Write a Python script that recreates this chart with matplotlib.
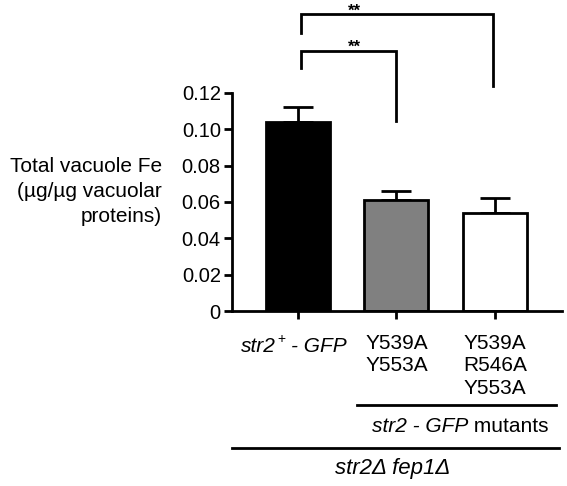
import matplotlib.pyplot as plt
import numpy as np

plt.rcParams['font.family'] = ['Liberation Sans', 'DejaVu Sans']

# data
groups = ['str2+ - GFP', 'Y539A\nY553A', 'Y539A\nR546A\nY553A']
values = [0.104, 0.061, 0.054]
errors = [0.008, 0.005, 0.008]
colors = ['black', '#808080', 'white']
yticks = [0, 0.02, 0.04, 0.06, 0.08, 0.10, 0.12]
ytick_labels = ['0', '0.02', '0.04', '0.06', '0.08', '0.10', '0.12']

fs = 15
W, H = 567, 486


def px(xp, yp):
    # pixel position (from top-left) -> figure fraction
    return xp / W, 1 - yp / H


fig = plt.figure(figsize=(5.67, 4.86), dpi=100)
ax = fig.add_axes([0.409, 0.360, 0.582, 0.449])

x = np.arange(len(values))
ax.bar(x, values, width=0.65, color=colors, edgecolor='black', linewidth=2, zorder=2)
ax.errorbar(x, values, yerr=[np.zeros(len(values)), errors], fmt='none',
            ecolor='black', elinewidth=2, capsize=11, capthick=2, zorder=1)

ax.set_xlim(-0.67, 2.68)
ax.set_ylim(0, 0.12)
ax.set_yticks(yticks)
ax.set_yticklabels(ytick_labels, fontsize=14.5)
ax.set_xticks(x)
ax.set_xticklabels([])
ax.tick_params(axis='both', width=2, length=6, direction='out', pad=2)
for s in ['top', 'right']:
    ax.spines[s].set_visible(False)
for s in ['left', 'bottom']:
    ax.spines[s].set_linewidth(2)

# y label
fig.text(*px(162, 191), 'Total vacuole Fe\n(\u00b5g/\u00b5g vacuolar\nproteins)',
         ha='right', va='center', fontsize=fs, linespacing=1.4)


# significance brackets
def bracket(x1, x2, ytop, y1, y2, text):
    ax.plot([x1, x1, x2, x2], [y1, ytop, ytop, y2], color='black', lw=2,
            clip_on=False, solid_joinstyle='miter')
    ax.text(0.57, ytop - 0.0022, text, ha='center', va='bottom',
            fontsize=12, fontweight='bold')


bracket(0.03, 1.0, 0.1430, 0.1335, 0.1045, '**')
bracket(0.03, 1.98, 0.1632, 0.1530, 0.1235, '**')

# x labels
fig.text(*px(276, 352), 'str2', style='italic', ha='right', va='baseline', fontsize=fs)
fig.text(*px(277, 343), '+', ha='left', va='baseline', fontsize=10)
fig.text(*px(291, 352), '- GFP', style='italic', ha='left', va='baseline', fontsize=fs)
for xi, lab in zip(x[1:], groups[1:]):
    ax.text(xi, -0.0125, lab, ha='center', va='top', fontsize=fs, linespacing=1.24,
            clip_on=False)

# group lines
fig.add_artist(plt.Line2D([357 / W, 556 / W], [1 - 405 / H] * 2, color='black', lw=2))
fig.text(*px(468, 432), 'str2 - GFP', style='italic', ha='right', va='baseline',
         fontsize=fs)
fig.text(*px(468, 432), ' mutants', ha='left', va='baseline', fontsize=fs)
fig.add_artist(plt.Line2D([232 / W, 559 / W], [1 - 448 / H] * 2, color='black', lw=2))
fig.text(*px(393, 474), 'str2\u0394 fep1\u0394', style='italic', ha='center',
         va='baseline', fontsize=16)

fig.savefig('out.png', dpi=100)
